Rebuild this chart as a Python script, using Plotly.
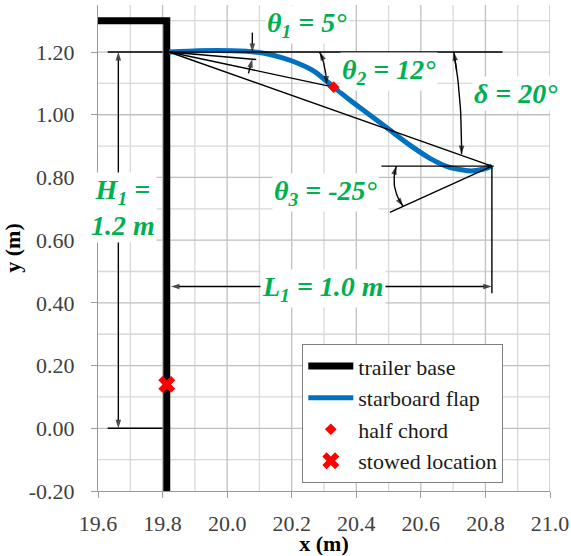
import math
import plotly.graph_objects as go

# ---------------- data ----------------
base_x = [19.60, 19.813, 19.813]
base_y = [1.30, 1.30, -0.20]

flap_x = [19.82, 19.91, 20.015, 20.095, 20.169, 20.219, 20.272, 20.33, 20.38,
          20.442, 20.504, 20.566, 20.628, 20.689, 20.751, 20.792, 20.82]
flap_y = [1.200, 1.204, 1.204, 1.199, 1.182, 1.164, 1.137, 1.088, 1.047,
          0.999, 0.951, 0.903, 0.861, 0.832, 0.821, 0.826, 0.836]

half_chord_x = [20.33]
half_chord_y = [1.088]

stowed_x = [19.813]
stowed_y = [0.14]

x_tick_vals = [19.6, 19.8, 20.0, 20.2, 20.4, 20.6, 20.8, 21.0]
x_tick_text = ["19.6", "19.8", "20.0", "20.2", "20.4", "20.6", "20.8", "21.0"]
y_tick_vals = [-0.2, 0.0, 0.2, 0.4, 0.6, 0.8, 1.0, 1.2]
y_tick_text = ["-0.20", "0.00", "0.20", "0.40", "0.60", "0.80", "1.00", "1.20"]
x_minor_vals = [19.7, 19.9, 20.1, 20.3, 20.5, 20.7, 20.9]
y_minor_vals = [-0.1, 0.1, 0.3, 0.5, 0.7, 0.9, 1.1, 1.3]

X_RANGE = [19.6, 21.0]
Y_RANGE = [-0.2, 1.35]

# annotated geometry values
H1 = 1.2
L1 = 1.0
theta1_deg = 5
theta2_deg = 12
delta_deg = 20
theta3_deg = -25

# ---------------- styling ----------------
GREEN = "#00B050"
SERIF = "Liberation Serif, Times New Roman, serif"
LW = 1.4
HEAD = 9

fig = go.Figure()


# grid (drawn as traces so that it sits beneath everything)
def grid(xv, yv, color):
    gx, gy = [], []
    for v in xv:
        gx += [v, v, None]
        gy += [Y_RANGE[0], Y_RANGE[1], None]
    for v in yv:
        gx += [X_RANGE[0], X_RANGE[1], None]
        gy += [v, v, None]
    fig.add_trace(go.Scatter(x=gx, y=gy, mode="lines", showlegend=False, hoverinfo="skip",
                             line=dict(color=color, width=1.3)))


grid(x_minor_vals, y_minor_vals, "#d8d8d8")
grid(x_tick_vals[1:], y_tick_vals[1:], "#c0c0c0")

fig.add_trace(go.Scatter(x=base_x, y=base_y, mode="lines", name="trailer base", legendrank=1,
                         line=dict(color="black", width=7), hoverinfo="skip"))
fig.add_trace(go.Scatter(x=flap_x, y=flap_y, mode="lines", name="starboard flap", legendrank=2,
                         line=dict(color="#0070C0", width=5, shape="spline", smoothing=0.6),
                         hoverinfo="skip"))

x0, y0 = flap_x[0], flap_y[0]
xe, ye = flap_x[-1], flap_y[-1]
tan = lambda d: math.tan(math.radians(d))


def line(xs, ys, head=False):
    """Black guide line; optional arrowhead at the last point."""
    if head:
        sizes = [0] * (len(xs) - 1) + [HEAD]
        fig.add_trace(go.Scatter(x=xs, y=ys, mode="lines+markers", showlegend=False,
                                 hoverinfo="skip", line=dict(color="black", width=LW),
                                 marker=dict(symbol="arrow", size=sizes, angleref="previous",
                                             color="black", line=dict(width=0))))
    else:
        fig.add_trace(go.Scatter(x=xs, y=ys, mode="lines", showlegend=False,
                                 hoverinfo="skip", line=dict(color="black", width=LW)))


# construction lines
line([x0, x0 + L1 + 0.033], [y0, y0])                                 # horizontal reference
line([x0, x0 + 0.27], [y0, y0 - 0.27 * tan(theta1_deg)])               # theta1 line
line([x0, half_chord_x[0]], [y0, half_chord_y[0]])                     # theta2 line
line([x0, xe], [y0, ye])                                               # chord (delta)
line([xe - 0.342, xe + 0.006], [ye, ye])                               # horizontal at tip
line([xe, xe - 0.316], [ye, ye + 0.316 * tan(theta3_deg)])             # theta3 line
line([xe, xe], [ye, 0.431])                                            # vertical extension
line([19.63, 19.80], [0.0, 0.0])                                       # H1 extension lines
line([19.63, 19.80], [H1, H1])


def qpts(p0, c, p2, n=16):
    xs, ys = [], []
    for i in range(n + 1):
        t = i / n
        xs.append((1 - t) ** 2 * p0[0] + 2 * (1 - t) * t * c[0] + t ** 2 * p2[0])
        ys.append((1 - t) ** 2 * p0[1] + 2 * (1 - t) * t * c[1] + t ** 2 * p2[1])
    return xs, ys


arcs = [
    ((20.287, 1.2), (20.306, 1.158), (20.308, 1.2 - (20.308 - x0) * tan(theta2_deg))),
    ((20.702, 1.2), (20.728, 1.05), (20.726, 1.2 - (20.726 - x0) * tan(delta_deg) + 0.004)),
    ((20.524, ye), (20.503, 0.768), (20.545, ye + (xe - 20.545) * tan(theta3_deg))),
]
for p0, c, p2 in arcs:
    xs, ys = qpts(p0, c, p2)
    line(xs, ys, head=True)
    line(xs[3::-1], ys[3::-1], head=True)

# dimension arrows
h_x = 19.663
line([h_x, h_x], [0.70, H1], head=True)
line([h_x, h_x], [0.70, 0.0], head=True)
l_y = 0.452
line([20.30, 19.826], [l_y, l_y], head=True)
line([20.30, xe], [l_y, l_y], head=True)
line([20.078, 20.078], [1.262, y0], head=True)
line([20.066, 20.078], [1.132, y0 - (20.078 - x0) * tan(theta1_deg)], head=True)

# markers on top
fig.add_trace(go.Scatter(x=half_chord_x, y=half_chord_y, mode="markers", name="half chord",
                         legendrank=3, hoverinfo="skip",
                         marker=dict(symbol="diamond", color="red", size=9)))
fig.add_trace(go.Scatter(x=stowed_x, y=stowed_y, mode="markers", name="stowed location",
                         legendrank=4, hoverinfo="skip",
                         marker=dict(symbol="x", color="red", size=15)))

annotations = []


def label(x, y, txt):
    annotations.append(dict(x=x, y=y, xref="x", yref="y", text=txt, showarrow=False,
                            bgcolor="white", borderpad=1,
                            font=dict(family=SERIF, size=28, color=GREEN, weight="bold", style="italic"),
                            xanchor="center", yanchor="middle"))


label(20.247, 1.287, "θ<sub>1</sub> = 5°")
label(20.502, 1.137, "θ<sub>2</sub> = 12°")
label(20.896, 1.069, "δ = 20°")
label(20.306, 0.752, "θ<sub>3</sub> = -25°")
label(20.298, 0.447, "L<sub>1</sub> = 1.0 m")
label(19.676, 0.703, "H<sub>1</sub> =<br>1.2 m")

fig.update_layout(annotations=annotations)

axis_common = dict(
    showline=True, linecolor="#9a9a9a", linewidth=1.2,
    ticks="outside", ticklen=6, tickcolor="#9a9a9a", tickwidth=1.2,
    showgrid=False, zeroline=False,
    tickfont=dict(family=SERIF, size=22, color="#404040"),
    mirror=False,
)

fig.update_xaxes(range=X_RANGE, tickmode="array", tickvals=x_tick_vals, ticktext=x_tick_text,
                 title=dict(text="<b>x (m)</b>", font=dict(family=SERIF, size=22, color="black"), standoff=2),
                 ticklabelstandoff=6, **axis_common)
fig.update_yaxes(range=Y_RANGE, tickmode="array", tickvals=y_tick_vals, ticktext=y_tick_text,
                 title=dict(text="<b>y (m)</b>", font=dict(family=SERIF, size=22, color="black"), standoff=4),
                 ticklabelstandoff=12, **axis_common)

fig.update_layout(
    width=571, height=556,
    margin=dict(l=98, r=21, t=5, b=65, autoexpand=False),
    paper_bgcolor="white", plot_bgcolor="white",
    font=dict(family=SERIF, size=22, color="black"),
    legend=dict(x=0.452, y=0.302, xanchor="left", yanchor="top",
                bgcolor="white", bordercolor="#808080", borderwidth=1,
                font=dict(family=SERIF, size=22, color="#1a1a1a"),
                itemwidth=45, tracegroupgap=0),
    showlegend=True,
)

fig.write_html("out.html")
